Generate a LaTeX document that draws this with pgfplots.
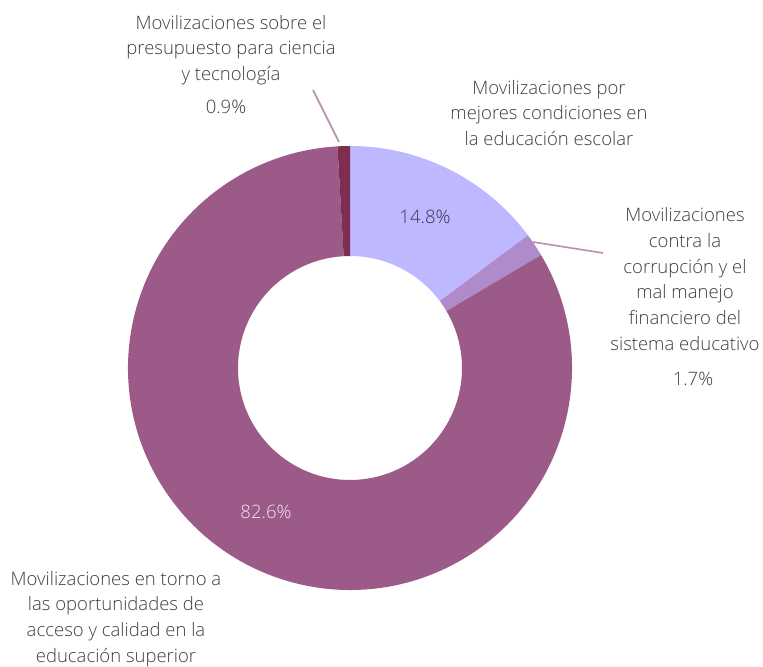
\documentclass[border=0pt]{standalone}
\usepackage{pgfplots}
\pgfplotsset{compat=1.18}
\usepackage{fontspec}
\setmainfont{Open Sans}[UprightFont=* Light]
\definecolor{cMain}{HTML}{9C5A88}
\definecolor{cLav}{HTML}{BDB8FF}
\definecolor{cMid}{HTML}{B08BCB}
\definecolor{cDark}{HTML}{7D2D50}
\definecolor{cLine}{HTML}{B68FB2}
\definecolor{cText}{HTML}{404040}
\def\cx{350}\def\cy{297}\def\Ro{222}\def\Ri{112}
\newcommand\slice[3]{%
 \fill[#3] (axis cs:{\cx+\Ro*cos(#1)},{\cy+\Ro*sin(#1)}) arc[start angle={#1},end angle={#2},radius=\Ro pt]
   -- (axis cs:{\cx+\Ri*cos(#2)},{\cy+\Ri*sin(#2)}) arc[start angle={#2},end angle={#1},radius=\Ri pt] -- cycle;}
\begin{document}
\begin{tikzpicture}
\begin{axis}[scale only axis, width=763pt, height=665pt, hide axis,
  xmin=0, xmax=763, ymin=0, ymax=665, clip=false]
\path (axis cs:0,0) rectangle (axis cs:763,665);
% values (percent): 14.8, 1.7, 82.6, 0.9 -- clockwise from 12 o'clock
\slice{90}{90-3.6*14.8}{cLav}
\slice{90-3.6*14.8}{90-3.6*(14.8+1.7)}{cMid}
\slice{90-3.6*(14.8+1.7)}{90-3.6*(14.8+1.7+82.6)}{cMain}
\slice{90-3.6*(14.8+1.7+82.6)}{90-3.6*100}{cDark}
% leader lines
\draw[cLine, line width=1.6pt] (axis cs:339,523) -- (axis cs:313,575);
\draw[cLine, line width=1.6pt] (axis cs:533,423) -- (axis cs:603,412);
% texts
\begin{scope}[every node/.style={font=\fontsize{18.5}{25.8}\selectfont, text=cText, align=center, inner sep=0pt}]
\node at (axis cs:231,615) {Movilizaciones sobre el\\presupuesto para ciencia\\y tecnología};
\node at (axis cs:226,558) {0.9\%};
\node at (axis cs:549,552) {Movilizaciones por\\mejores condiciones en\\la educación escolar};
\node at (axis cs:685,386) {Movilizaciones\\contra la\\corrupción y el\\mal manejo\\financiero del\\sistema educativo};
\node at (axis cs:693,286) {1.7\%};
\node at (axis cs:116,46) {Movilizaciones en torno a\\las oportunidades de\\acceso y calidad en la\\educación superior};
\node[text=cText!90!blue] at (axis cs:425,448) {14.8\%};
\node[text=white!85!cMain] at (axis cs:266,153) {82.6\%};
\end{scope}
\end{axis}
\end{tikzpicture}
\end{document}
